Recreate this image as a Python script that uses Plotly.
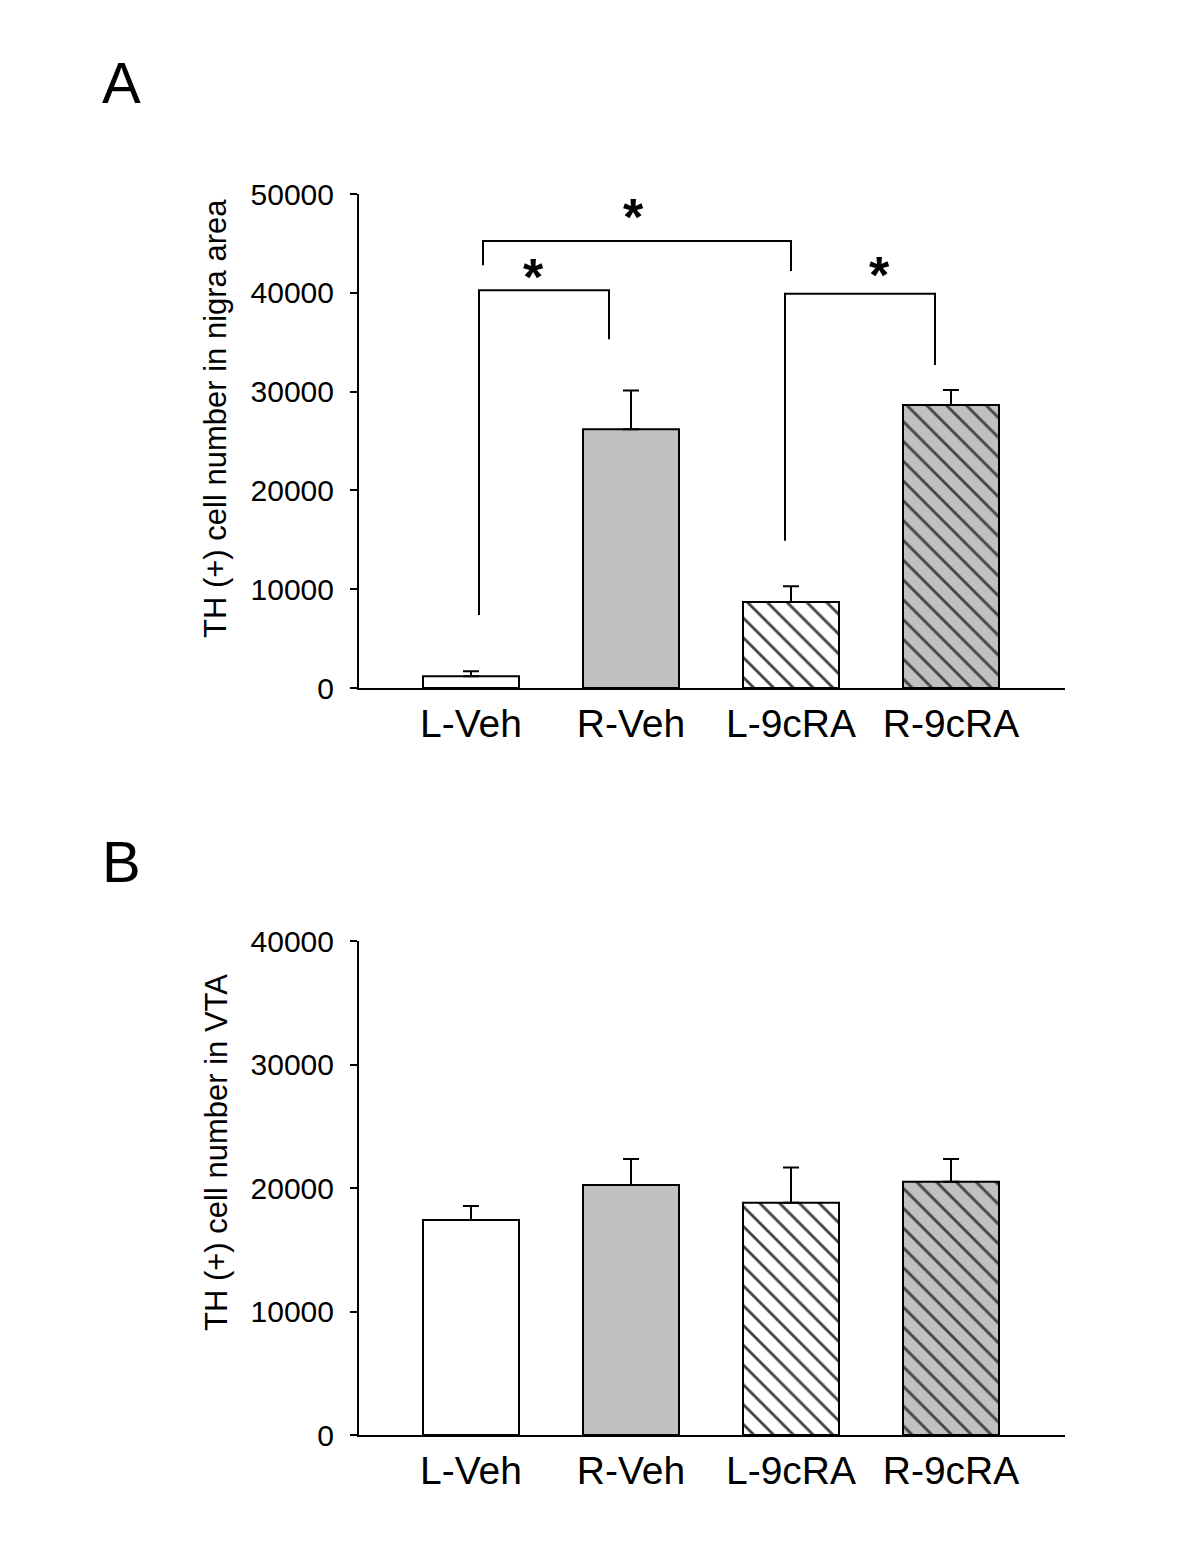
import plotly.graph_objects as go

# page body has an 8px margin; the figure is sized to fit inside the window
PAD = 8
W, H = 1200 - 2 * PAD, 1553 - 2 * PAD

categories = ["L-Veh", "R-Veh", "L-9cRA", "R-9cRA"]

# Panel A: TH(+) cell number in nigra area
nigra_mean = [1200, 26200, 8700, 28650]
nigra_err = [500, 3900, 1600, 1500]

# Panel B: TH(+) cell number in VTA
vta_mean = [17400, 20250, 18800, 20500]
vta_err = [1150, 2100, 2850, 1850]

yticks_A = [0, 10000, 20000, 30000, 40000, 50000]
yticks_B = [0, 10000, 20000, 30000, 40000]

# significance brackets in panel A: (x_left, x_right, y_left_bottom, y_top, y_right_bottom)
brackets_A = [
    (0.05, 0.8625, 7400, 40250, 35300),
    (0.075, 2.0, 42800, 45250, 42200),
    (1.9625, 2.9, 14900, 39900, 32700),
]
stars_A = [(0.3875, 41600), (1.0125, 47700), (2.556, 41800)]

bar_colors = ["white", "#c0c0c0", "white", "#c0c0c0"]
bar_patterns = ["", "", "\\", "\\"]

FONT = "Liberation Sans, Arial, sans-serif"


def px_x(p):
    return (p - PAD) / W


def px_y(p):
    return 1 - (p - PAD) / H


def make_bar(vals, errs, xa, ya):
    return go.Bar(
        x=categories, y=vals, xaxis=xa, yaxis=ya, width=0.6,
        marker=dict(
            color=bar_colors,
            line=dict(color="black", width=2),
            pattern=dict(shape=bar_patterns, fgcolor="black", fgopacity=1,
                         size=14, solidity=0.2, fillmode="overlay"),
        ),
        error_y=dict(type="data", symmetric=False, array=errs,
                     arrayminus=[0] * len(errs), width=8, thickness=2,
                     color="black"),
        showlegend=False,
    )


fig = go.Figure()
fig.add_trace(make_bar(nigra_mean, nigra_err, "x", "y"))
fig.add_trace(make_bar(vta_mean, vta_err, "x2", "y2"))

xdom = [px_x(359), px_x(1065)]
xcommon = dict(range=[-0.7, 3.7125], showline=True, linecolor="black", linewidth=2,
               ticks="", showgrid=False, zeroline=False, automargin=False,
               tickfont=dict(family=FONT, size=39, color="black"), domain=xdom)
ycommon = dict(showline=True, linecolor="black", linewidth=2, ticks="outside",
               ticklen=7, tickwidth=2, tickcolor="black", showgrid=False,
               zeroline=False, automargin=False, ticklabelstandoff=10,
               tickfont=dict(family=FONT, size=30, color="black"))

fig.update_layout(
    template="none",
    width=W, height=H, margin=dict(l=0, r=0, t=0, b=0, pad=0, autoexpand=False),
    paper_bgcolor="white", plot_bgcolor="white",
    xaxis=dict(**xcommon, anchor="y"),
    yaxis=dict(**ycommon, range=[0, 50000], tickvals=yticks_A,
               ticktext=[str(v) for v in yticks_A],
               domain=[px_y(688), px_y(194)], anchor="x"),
    xaxis2=dict(**xcommon, anchor="y2"),
    yaxis2=dict(**ycommon, range=[0, 40000], tickvals=yticks_B,
                ticktext=[str(v) for v in yticks_B],
                domain=[px_y(1435), px_y(941)], anchor="x2"),
)

for (xl, xr, yl, yt, yr) in brackets_A:
    fig.add_shape(type="path", xref="x", yref="y",
                  path=f"M {xl},{yl} L {xl},{yt} L {xr},{yt} L {xr},{yr}",
                  line=dict(color="black", width=2))

for (sx, sy) in stars_A:
    fig.add_annotation(x=sx, y=sy, xref="x", yref="y", text="<b>*</b>",
                       showarrow=False, font=dict(family=FONT, size=52, color="black"),
                       xanchor="center", yanchor="middle")

# panel letters
fig.add_annotation(x=px_x(121), y=px_y(83), xref="paper", yref="paper", text="A",
                   showarrow=False, font=dict(family=FONT, size=58, color="black"),
                   xanchor="center", yanchor="middle")
fig.add_annotation(x=px_x(121), y=px_y(861), xref="paper", yref="paper", text="B",
                   showarrow=False, font=dict(family=FONT, size=58, color="black"),
                   xanchor="center", yanchor="middle")

# y-axis titles
fig.add_annotation(x=px_x(216), y=px_y(419), xref="paper", yref="paper",
                   text="TH (+) cell number in nigra area", textangle=-90,
                   showarrow=False, font=dict(family=FONT, size=31, color="black"),
                   xanchor="center", yanchor="middle")
fig.add_annotation(x=px_x(216), y=px_y(1153), xref="paper", yref="paper",
                   text="TH (+) cell number in VTA", textangle=-90,
                   showarrow=False, font=dict(family=FONT, size=31, color="black"),
                   xanchor="center", yanchor="middle")

fig.write_html("out.html")
